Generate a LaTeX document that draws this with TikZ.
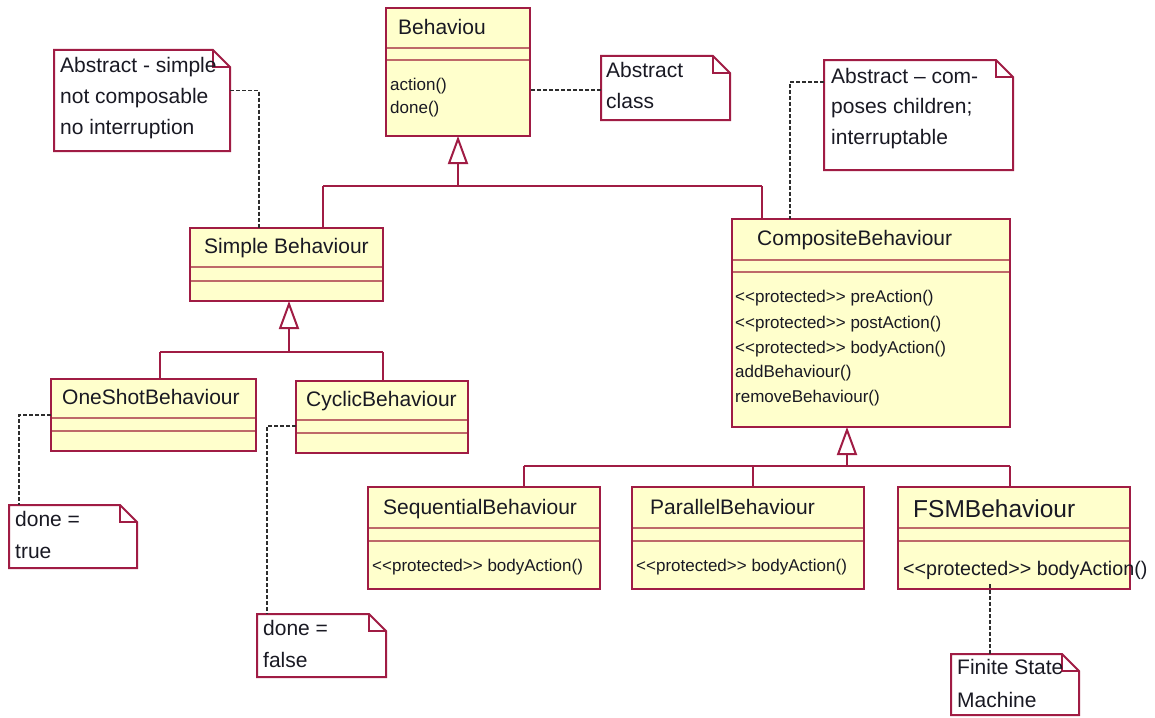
\documentclass[tikz,border=0pt]{standalone}
\usepackage{fontspec}
\setmainfont{Liberation Sans}
\usetikzlibrary{arrows.meta,calc}

\definecolor{umlred}{RGB}{160,28,68}
\definecolor{umlfill}{RGB}{255,255,204}
\definecolor{umlsep}{RGB}{190,105,105}
\definecolor{dashgray}{RGB}{45,45,45}
\definecolor{ink}{RGB}{25,25,35}

% stereotype brackets kept as two separate characters
\newcommand\stereo[1]{<\kern0pt<#1>\kern0pt>}

\tikzset{
  classbox/.style={draw=umlred, fill=umlfill, line width=2.4pt, inner sep=0pt, outer sep=0pt, anchor=north west},
  compsep/.style={draw=umlsep, line width=1.6pt},
  notebox/.style={inner sep=0pt, outer sep=0pt, anchor=north west},
  noteline/.style={draw=umlred, fill=white, line width=2pt, line join=miter},
  gen/.style={draw=umlred, line width=2pt},
  genhead/.style={gen, -{Triangle[open, length=28pt, width=20pt]}},
  dashlink/.style={draw=dashgray, line width=1.5pt, dash pattern=on 4pt off 2pt},
  label/.style={anchor=base west, inner sep=0pt, text=ink},
  title/.style={label, font=\fontsize{21}{25}\selectfont},
  bigtitle/.style={label, font=\fontsize{24.5}{29}\selectfont},
  oper/.style={label, font=\fontsize{17}{20}\selectfont},
  bigoper/.style={label, font=\fontsize{19.7}{23}\selectfont},
  notetext/.style={label, font=\fontsize{21}{25}\selectfont},
}

% class box: name, x1, y1, x2, y2, first and second compartment rule
\newcommand\umlclass[7]{%
  \node[classbox, minimum width={(#4-#2)*1pt}, minimum height={(#5-#3)*1pt}] (#1) at (#2,#3) {};
  \draw[compsep] (#2+1.2,#6) -- (#4-1.2,#6);
  \draw[compsep] (#2+1.2,#7) -- (#4-1.2,#7);
}

% note with folded corner: name, x1, y1, x2, y2
\newcommand\umlnote[5]{%
  \node[notebox, minimum width={(#4-#2)*1pt}, minimum height={(#5-#3)*1pt}] (#1) at (#2,#3) {};
  \draw[noteline] (#1.north west) -- ([xshift=-17pt]#1.north east) -- ([yshift=-17pt]#1.north east)
    -- (#1.south east) -- (#1.south west) -- cycle;
  \draw[noteline, fill=none] ([xshift=-17pt]#1.north east) -- ++(0,-17pt) -- ([yshift=-17pt]#1.north east);
}

\begin{document}
\begin{tikzpicture}[x=1pt, y=-1pt]
\useasboundingbox (0,0) rectangle (1155,717);
\fill[white] (0,0) rectangle (1155,717);

% ---------- classes ----------
\umlclass{beh}{386}{8}{530}{136}{48}{60}
\umlclass{simple}{190}{228}{383}{301}{267}{281}
\umlclass{oneshot}{51}{379}{256}{451}{418}{431}
\umlclass{cyclic}{296}{381}{468}{453}{420}{433}
\umlclass{comp}{732}{219}{1010}{427}{260}{272}
\umlclass{seq}{368}{487}{600}{589}{528}{541}
\umlclass{par}{632}{487}{864}{589}{528}{541}
\umlclass{fsm}{898}{487}{1130}{589}{528}{541}

% ---------- notes ----------
\umlnote{absnote}{601}{56}{730}{120}
\umlnote{simplenote}{54}{50}{230}{151}
\umlnote{compnote}{824}{60}{1013}{170}
\umlnote{truenote}{9}{505}{137}{568}
\umlnote{falsenote}{257}{614}{386}{677}
\umlnote{fsmnote}{951}{654}{1079}{715}

% ---------- generalisation trees ----------
\coordinate (g1) at (458,186);
\coordinate (g1s) at (323,186);
\coordinate (g1c) at (762,186);
\draw[gen] (g1s) -- (g1c);
\draw[gen] (g1s) -- (g1s |- simple.north);
\draw[gen] (g1c) -- (g1c |- comp.north);
\draw[genhead] (g1) -- (beh.south);

\coordinate (g2) at (289,352);
\coordinate (g2o) at (160,352);
\coordinate (g2c) at (383,352);
\draw[gen] (g2o) -- (g2c);
\draw[gen] (g2o) -- (g2o |- oneshot.north);
\draw[gen] (g2c) -- (g2c |- cyclic.north);
\draw[genhead] (g2) -- ([xshift=2.5pt]simple.south);

\coordinate (g3) at (847,466);
\coordinate (g3s) at (524,466);
\coordinate (g3p) at (753,466);
\coordinate (g3f) at (1010,466);
\draw[gen] (g3s) -- (g3f);
\draw[gen] (g3s) -- (g3s |- seq.north);
\draw[gen] (g3p) -- (g3p |- par.north);
\draw[gen] (g3f) -- (g3f |- fsm.north);
\draw[genhead] (g3) -- ([xshift=-24pt]comp.south);

% ---------- note links ----------
\draw[dashlink] (absnote.west |- 0,90) -- (beh.east |- 0,90);
\draw[dashlink] ([yshift=10pt]simplenote.east) -| ([xshift=-27.5pt]simple.north);
\draw[dashlink] ([yshift=33pt]compnote.west) -| ([xshift=-81pt]comp.north);
\draw[dashlink] (oneshot.west) -| ([xshift=-54pt]truenote.north);
\draw[dashlink] ([yshift=-9pt]cyclic.west) -| ([xshift=-54.5pt]falsenote.north);
\draw[dashlink] ([xshift=-24pt,yshift=5pt]fsm.south) -- ([xshift=-25pt]fsmnote.north);

% ---------- class texts ----------
\node[title] (behT) at (398,35) {Behaviou};
\node[oper] (behO1) at (390,90.5) {action()};
\node[oper] (behO2) at (390,113.5) {done()};

\node[title] (simpleT) at (204,253) {Simple Behaviour};
\node[title] (oneshotT) at (62,404) {OneShotBehaviour};
\node[title] (cyclicT) at (306,406) {CyclicBehaviour};

\node[title] (compT) at (757,245) {CompositeBehaviour};
\node[oper] (compO1) at (735,302.5) {\stereo{protected} preAction()};
\node[oper] (compO2) at (735,328.5) {\stereo{protected} postAction()};
\node[oper] (compO3) at (735,353.5) {\stereo{protected} bodyAction()};
\node[oper] (compO4) at (735,377.5) {addBehaviour()};
\node[oper] (compO5) at (735,402.5) {removeBehaviour()};

\node[title] (seqT) at (383,514) {SequentialBehaviour};
\node[oper] (seqO) at (372,571.5) {\stereo{protected} bodyAction()};
\node[title] (parT) at (650,514) {ParallelBehaviour};
\node[oper] (parO) at (636,571.5) {\stereo{protected} bodyAction()};
\node[bigtitle] (fsmT) at (913,517.5) {FSMBehaviour};
\node[bigoper] (fsmO) at (903,575) {\stereo{protected} bodyAction()};

% ---------- note texts ----------
\node[notetext] (absA) at (606,77) {Abstract};
\node[notetext] (absB) at (606,108) {class};

\node[notetext] (simA) at (60,72) {Abstract - simple};
\node[notetext] (simB) at (60,103) {not composable};
\node[notetext] (simC) at (60,134) {no interruption};

\node[notetext] (cmpA) at (831,83) {Abstract – com-};
\node[notetext] (cmpB) at (831,113) {poses children;};
\node[notetext] (cmpC) at (831,144) {interruptable};

\node[notetext] (truA) at (15,526) {done =};
\node[notetext] (truB) at (15,558) {true};

\node[notetext] (falA) at (263,635) {done =};
\node[notetext] (falB) at (263,667) {false};

\node[notetext] (fsmA) at (957,674) {Finite State};
\node[notetext] (fsmB) at (957,707) {Machine};
\end{tikzpicture}
\end{document}
